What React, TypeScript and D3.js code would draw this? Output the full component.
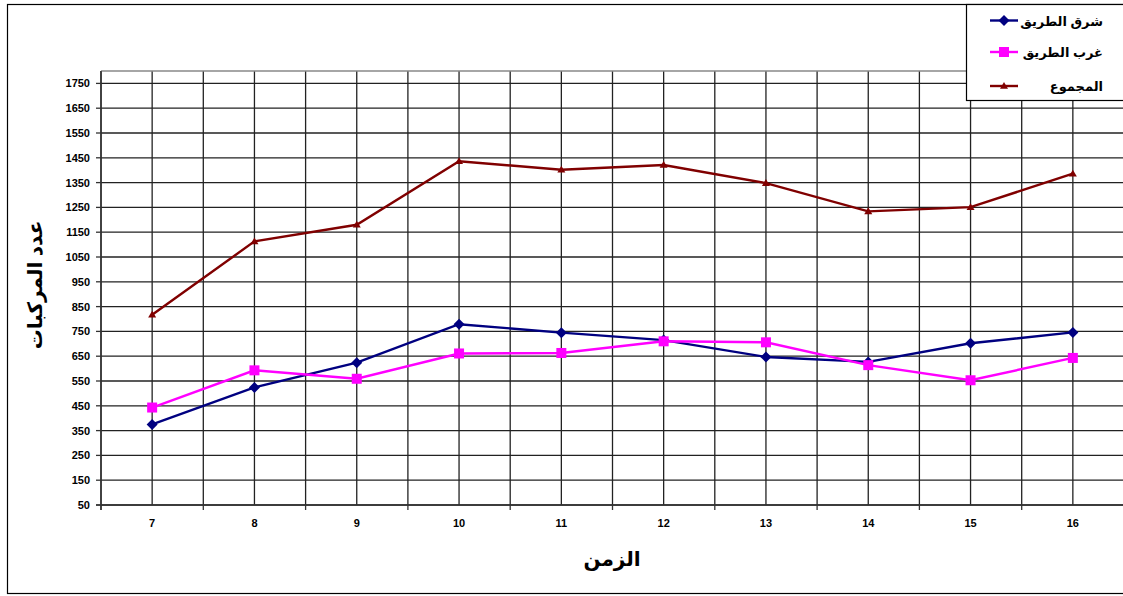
import React from "react";
import * as d3 from "d3";

// Hours of the day (x categories)
const hours: string[] = ["7", "8", "9", "10", "11", "12", "13", "14", "15", "16"];

// Vehicle counts per hour
const eastValues: number[] = [375, 524, 624, 779, 745, 715, 647, 627, 702, 746];
const westValues: number[] = [443, 593, 559, 661, 663, 710, 706, 614, 553, 643];
const totalValues: number[] = [817, 1113, 1180, 1436, 1402, 1421, 1348, 1234, 1251, 1386];

// Y axis ticks
const yTicks: number[] = [50, 150, 250, 350, 450, 550, 650, 750, 850, 950, 1050, 1150, 1250, 1350, 1450, 1550, 1650, 1750];

const seriesNames: string[] = ["شرق الطريق", "غرب الطريق", "المجموع"];
const seriesColors: string[] = ["#000080", "#FF00FF", "#800000"];
const seriesMarkers: string[] = ["diamond", "square", "triangle"];
const xTitle = "الزمن";
const yTitle = "عدد المركبات";

const W = 1123;
const H = 596;
const left = 101;
const right = 1124;
const top = 71;
const bottom = 505;

const FONT = "Arial, 'Liberation Sans', 'DejaVu Sans', sans-serif";

function Marker({ kind, x, y, color }: { kind: string; x: number; y: number; color: string }) {
  if (kind === "diamond") {
    const r = 5.5;
    return <path d={`M${x},${y - r}L${x + r},${y}L${x},${y + r}L${x - r},${y}Z`} fill={color} />;
  }
  if (kind === "square") {
    const s = 10;
    return <rect x={x - s / 2} y={y - s / 2} width={s} height={s} fill={color} />;
  }
  const r = 4;
  return <path d={`M${x},${y - r}L${x + r},${y + r * 0.7}L${x - r},${y + r * 0.7}Z`} fill={color} />;
}

export default function App() {
  const x = d3.scaleBand<string>().domain(hours).range([left, right]).paddingInner(0).paddingOuter(0);
  const y = d3.scaleLinear().domain([50, 1800]).range([bottom, top]);
  const bw = x.bandwidth();
  const cx = (h: string) => (x(h) as number) + bw / 2;

  const line = d3
    .line<[string, number]>()
    .x((d) => cx(d[0]))
    .y((d) => y(d[1]));

  const series = [eastValues, westValues, totalValues];

  const boundaries = hours.map((h) => x(h) as number).concat([right]);
  const centers = hours.map(cx);

  return (
    <svg
      width={W}
      height={H}
      style={{ position: "absolute", left: 0, top: 0, background: "#fff" }}
      fontFamily={FONT}
    >
      <rect x={0} y={0} width={W} height={H} fill="#fff" />
      {/* outer frame */}
      <rect x={7.5} y={4.5} width={1130} height={589} fill="none" stroke="#000" strokeWidth={1.2} />

      {/* horizontal grid */}
      {yTicks.map((t) => (
        <line key={"h" + t} x1={left} x2={right} y1={y(t)} y2={y(t)} stroke="#222" strokeWidth={1.3} />
      ))}
      {/* vertical grid at category boundaries and centres */}
      {boundaries.concat(centers).map((v, i) => (
        <line key={"v" + i} x1={v} x2={v} y1={top} y2={bottom} stroke="#222" strokeWidth={1.3} />
      ))}
      {/* plot frame */}
      <line x1={left} x2={right} y1={top} y2={top} stroke="#888" strokeWidth={1.3} />
      <line x1={left} x2={left} y1={top} y2={bottom + 5} stroke="#333" strokeWidth={1.5} />
      <line x1={left - 5} x2={right} y1={bottom} y2={bottom} stroke="#333" strokeWidth={1.5} />

      {/* y ticks & labels */}
      {yTicks.map((t) => (
        <g key={"yt" + t}>
          <line x1={left - 5} x2={left} y1={y(t)} y2={y(t)} stroke="#333" strokeWidth={1.3} />
          <text x={90} y={y(t) + 4} textAnchor="end" fontSize={11} fontWeight="bold" fill="#000">
            {t}
          </text>
        </g>
      ))}

      {/* x ticks & labels */}
      {boundaries.map((b, i) => (
        <line key={"xt" + i} x1={b} x2={b} y1={bottom} y2={bottom + 5} stroke="#333" strokeWidth={1.3} />
      ))}
      {hours.map((h) => (
        <text key={"xl" + h} x={cx(h)} y={527} textAnchor="middle" fontSize={11} fontWeight="bold" fill="#000">
          {h}
        </text>
      ))}

      {/* axis titles */}
      <text x={612} y={566} textAnchor="middle" fontSize={20} fontWeight="bold" fill="#000">
        {xTitle}
      </text>
      <text
        transform={`translate(42,285) rotate(-90)`}
        textAnchor="middle"
        fontSize={20}
        fontWeight="bold"
        fill="#000"
      >
        {yTitle}
      </text>

      {/* series */}
      {series.map((vals, si) => {
        const pts = hours.map((h, i) => [h, vals[i]] as [string, number]);
        return (
          <g key={"s" + si}>
            <path d={line(pts) || ""} fill="none" stroke={seriesColors[si]} strokeWidth={2.4} />
            {pts.map((p, i) => (
              <Marker key={i} kind={seriesMarkers[si]} x={cx(p[0])} y={y(p[1])} color={seriesColors[si]} />
            ))}
          </g>
        );
      })}

      {/* legend */}
      <rect x={966.5} y={4.5} width={170} height={96} fill="#fff" stroke="#000" strokeWidth={1.2} />
      {seriesNames.map((n, i) => {
        const ly = [20.5, 52, 86][i];
        return (
          <g key={"lg" + i}>
            <line x1={990} x2={1018} y1={ly} y2={ly} stroke={seriesColors[i]} strokeWidth={2.4} />
            <Marker kind={seriesMarkers[i]} x={1004} y={ly} color={seriesColors[i]} />
            <text x={1103} y={ly + 5} textAnchor="end" fontSize={13} fontWeight="bold" fill="#000">
              {n}
            </text>
          </g>
        );
      })}
    </svg>
  );
}
